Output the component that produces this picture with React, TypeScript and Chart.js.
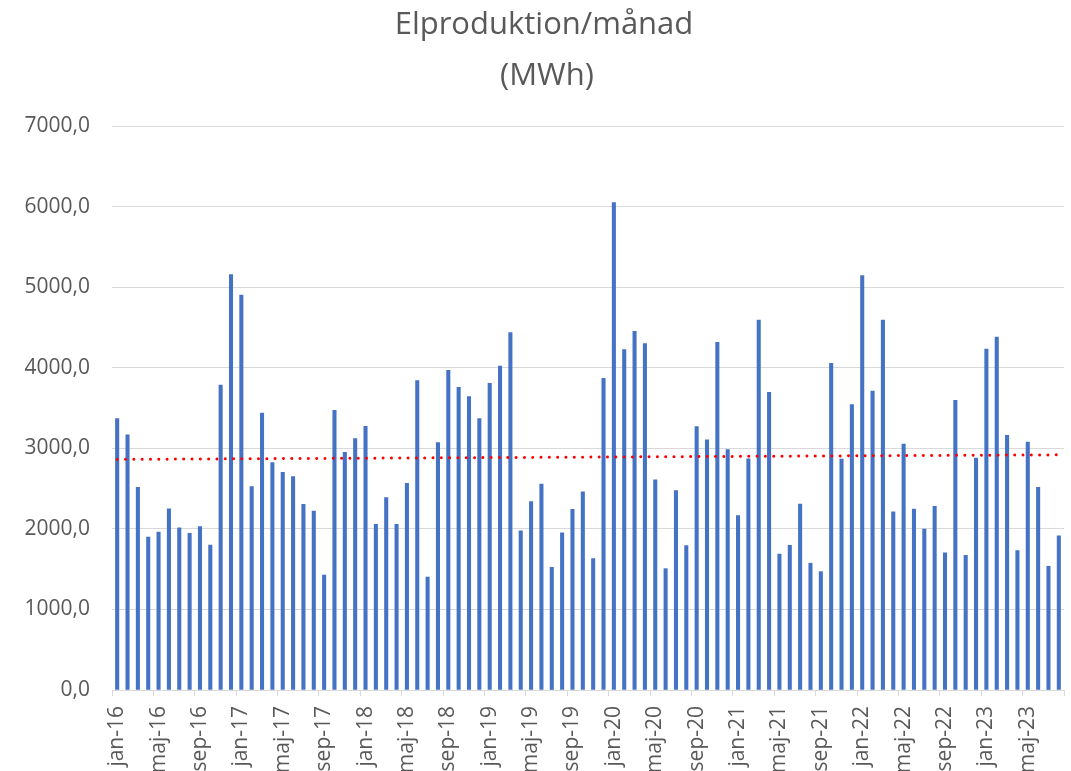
import React, { useEffect, useRef } from "react";
import { Chart, registerables } from "chart.js";

Chart.register(...registerables);

const MONTH_NAMES = ["jan", "feb", "mar", "apr", "maj", "jun", "jul", "aug", "sep", "okt", "nov", "dec"];
const YEARS = ["16", "17", "18", "19", "20", "21", "22", "23"];
const CATEGORIES: string[] = YEARS.flatMap((y) => MONTH_NAMES.map((m) => `${m}-${y}`)).slice(0, 92);

const VALUES_2016 = [3370, 3168, 2514, 1897, 1960, 2249, 2014, 1943, 2027, 1800, 3785, 5157];
const VALUES_2017 = [4901, 2526, 3437, 2824, 2702, 2648, 2304, 2220, 1427, 3470, 2950, 3122];
const VALUES_2018 = [3273, 2056, 2388, 2056, 2564, 3840, 1402, 3072, 3966, 3756, 3642, 3370];
const VALUES_2019 = [3806, 4020, 4436, 1977, 2337, 2556, 1523, 1951, 2241, 2459, 1632, 3869];
const VALUES_2020 = [6051, 4226, 4452, 4301, 2610, 1506, 2476, 1792, 3269, 3105, 4314, 2984];
const VALUES_2021 = [2165, 2870, 4591, 3693, 1687, 1796, 2308, 1574, 1469, 4054, 2866, 3542];
const VALUES_2022 = [5145, 3710, 4591, 2211, 3051, 2245, 1997, 2279, 1704, 3596, 1670, 2879];
const VALUES_2023 = [4230, 4381, 3160, 1729, 3076, 2514, 1536, 1914];

const PRODUCTION: number[] = [
  ...VALUES_2016, ...VALUES_2017, ...VALUES_2018, ...VALUES_2019,
  ...VALUES_2020, ...VALUES_2021, ...VALUES_2022, ...VALUES_2023,
];

const TITLE_LINES = ["Elproduktion/månad", "(MWh)"];
const Y_MIN = 0;
const Y_MAX = 7000;
const Y_STEP = 1000;
const LABEL_EVERY = 4;

// Linear (least squares) trend line like Excel's, derived from the data
function linearTrend(values: number[]): number[] {
  const n = values.length;
  let sx = 0, sy = 0, sxy = 0, sxx = 0;
  values.forEach((v, i) => {
    const x = i + 1;
    sx += x; sy += v; sxy += x * v; sxx += x * x;
  });
  const b = (n * sxy - sx * sy) / (n * sxx - sx * sx);
  const a = (sy - b * sx) / n;
  return values.map((_, i) => a + b * (i + 1));
}

const FONT = "'Open Sans', 'DejaVu Sans', sans-serif";
const TEXT_COLOR = "#595959";
const GRID_COLOR = "#d9d9d9";

const titlePlugin = {
  id: "excelTitle",
  afterDraw(chart: any) {
    const ctx = chart.ctx;
    ctx.save();
    ctx.fillStyle = TEXT_COLOR;
    ctx.font = `31px ${FONT}`;
    ctx.textAlign = "center";
    ctx.textBaseline = "alphabetic";
    ctx.fillText(TITLE_LINES[0], 544, 34);
    ctx.fillText(TITLE_LINES[1], 547, 85);
    ctx.restore();
  },
};

export default function App() {
  const ref = useRef<HTMLCanvasElement | null>(null);

  useEffect(() => {
    if (!ref.current) return;
    const trend = linearTrend(PRODUCTION);
    const chart = new Chart(ref.current, {
      type: "bar",
      data: {
        labels: CATEGORIES,
        datasets: [
          {
            type: "line",
            label: "Trend",
            data: trend,
            borderColor: "#ff0000",
            borderWidth: 3,
            borderDash: [0.01, 8.3],
            borderCapStyle: "round",
            pointRadius: 0,
            fill: false,
            order: 0,
          } as any,
          {
            type: "bar",
            label: "Elproduktion",
            data: PRODUCTION,
            backgroundColor: "#4472C4",
            borderWidth: 0,
            barThickness: 3.4,
            order: 1,
          } as any,
        ],
      },
      options: {
        responsive: false,
        animation: false,
        devicePixelRatio: 1,
        layout: { padding: { left: 0, right: 7, top: 126, bottom: 0 } },
        plugins: {
          legend: { display: false },
          title: { display: false },
          tooltip: { enabled: false },
        },
        scales: {
          x: {
            offset: true,
            grid: {
              offset: true,
              drawOnChartArea: false,
              drawTicks: true,
              tickLength: 6,
              lineWidth: 1,
              color: (ctx: any) =>
                ctx.index === undefined || ctx.index % LABEL_EVERY === 0 ? GRID_COLOR : "rgba(0,0,0,0)",
            },
            border: { display: true, color: GRID_COLOR, width: 1 },
            ticks: {
              autoSkip: false,
              maxRotation: 90,
              minRotation: 90,
              padding: 10,
              color: TEXT_COLOR,
              font: { family: FONT, size: 21 },
              callback: (_v: any, i: number) => (i % LABEL_EVERY === 0 ? CATEGORIES[i] : ""),
            },
            afterFit: (scale: any) => {
              scale.height = 81;
              scale.paddingLeft = 0;
              scale.paddingRight = 0;
            },
          },
          y: {
            min: Y_MIN,
            max: Y_MAX,
            grid: { color: GRID_COLOR, lineWidth: 1, drawTicks: false },
            border: { display: false },
            ticks: {
              stepSize: Y_STEP,
              padding: 22,
              color: TEXT_COLOR,
              font: { family: FONT, size: 21 },
              callback: (v: any) => Number(v).toFixed(1).replace(".", ","),
            },
            afterFit: (scale: any) => {
              scale.width = 112;
              scale.paddingTop = 0;
              scale.paddingBottom = 0;
            },
          },
        },
      },
      plugins: [titlePlugin],
    });
    return () => chart.destroy();
  }, []);

  return (
    <div style={{ position: "fixed", left: 0, top: 0, width: 1071, height: 771, background: "#fff" }}>
      <canvas ref={ref} width={1071} height={771} style={{ display: "block" }} />
    </div>
  );
}
